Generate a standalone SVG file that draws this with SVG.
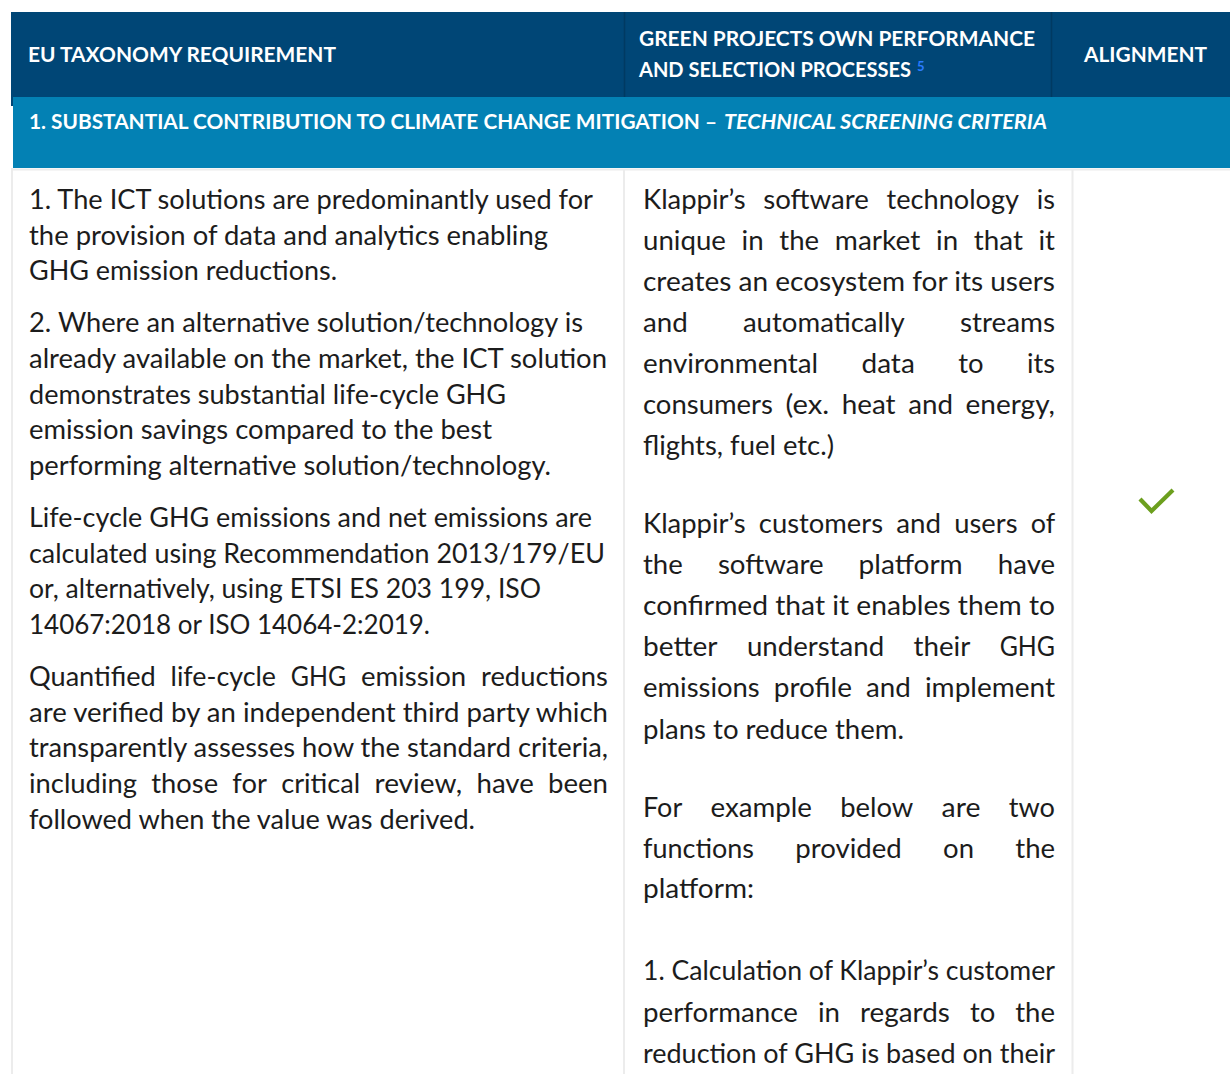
<svg xmlns="http://www.w3.org/2000/svg" width="1230" height="1074" viewBox="0 0 1230 1074">
  <style>
    .hd { font-family: Lato, "Liberation Sans", sans-serif; font-weight: 700; font-size: 21px; fill: #ffffff; }
    .sec { font-family: Lato, "Liberation Sans", sans-serif; font-weight: 700; font-size: 21px; fill: #ffffff; }
    .it { font-style: italic; }
    .sup { font-family: Lato, "Liberation Sans", sans-serif; font-weight: 700; font-size: 13px; fill: #2a7cff; }
    .b { font-family: Lato, "Liberation Sans", sans-serif; font-size: 27px; fill: #1c1c1c; }
    .grid { stroke: #ececec; stroke-width: 2; fill: none; }
    .hdiv { stroke: #003a62; stroke-width: 1.5; }
  </style>

  <rect x="0" y="0" width="1230" height="1074" fill="#ffffff"/>

  <g id="header">
    <rect x="11" y="12" width="1219" height="85" fill="#004676"/>
    <rect x="11" y="97" width="2" height="9" fill="#004676"/>
    <line class="hdiv" x1="624.5" y1="12" x2="624.5" y2="97"/>
    <line class="hdiv" x1="1051.5" y1="12" x2="1051.5" y2="97"/>
    <text class="hd" x="28" y="62" textLength="308" lengthAdjust="spacingAndGlyphs">EU TAXONOMY REQUIREMENT</text>
    <text class="hd" x="639" y="46" textLength="396" lengthAdjust="spacingAndGlyphs">GREEN PROJECTS OWN PERFORMANCE</text>
    <text class="hd" x="639" y="77"><tspan textLength="272" lengthAdjust="spacingAndGlyphs">AND SELECTION PROCESSES</tspan><tspan class="sup" x="917" dy="-6.5">5</tspan></text>
    <text class="hd" x="1084" y="62" textLength="123" lengthAdjust="spacingAndGlyphs">ALIGNMENT</text>
  </g>

  <g id="section-band">
    <rect x="13" y="97" width="1217" height="71" fill="#0381b4"/>
    <text class="sec" x="29" y="129" textLength="688" lengthAdjust="spacingAndGlyphs">1. SUBSTANTIAL CONTRIBUTION TO CLIMATE CHANGE MITIGATION –</text>
    <text class="sec it" x="724" y="129" textLength="323" lengthAdjust="spacingAndGlyphs">TECHNICAL SCREENING CRITERIA</text>
  </g>

  <g id="grid-lines">
    <line class="grid" x1="13" y1="169.5" x2="1230" y2="169.5"/>
    <line class="grid" x1="12" y1="168" x2="12" y2="1074"/>
    <line class="grid" x1="624" y1="170" x2="624" y2="1074"/>
    <line class="grid" x1="1072.5" y1="170" x2="1072.5" y2="1074"/>
  </g>

  <g id="col-requirement">
    <text class="b" x="29" y="209" textLength="564" lengthAdjust="spacingAndGlyphs">1. The ICT solutions are predominantly used for</text>
    <text class="b" x="29" y="245" textLength="519" lengthAdjust="spacingAndGlyphs">the provision of data and analytics enabling</text>
    <text class="b" x="29" y="280" textLength="308" lengthAdjust="spacingAndGlyphs">GHG emission reductions.</text>

    <text class="b" x="29" y="332" textLength="554" lengthAdjust="spacingAndGlyphs">2. Where an alternative solution/technology is</text>
    <text class="b" x="29" y="368" textLength="578" lengthAdjust="spacingAndGlyphs">already available on the market, the ICT solution</text>
    <text class="b" x="29" y="404" textLength="477" lengthAdjust="spacingAndGlyphs">demonstrates substantial life-cycle GHG</text>
    <text class="b" x="29" y="439" textLength="463" lengthAdjust="spacingAndGlyphs">emission savings compared to the best</text>
    <text class="b" x="29" y="475" textLength="522" lengthAdjust="spacingAndGlyphs">performing alternative solution/technology.</text>

    <text class="b" x="29" y="527" textLength="563" lengthAdjust="spacingAndGlyphs">Life-cycle GHG emissions and net emissions are</text>
    <text class="b" x="29" y="563" textLength="576" lengthAdjust="spacingAndGlyphs">calculated using Recommendation 2013/179/EU</text>
    <text class="b" x="29" y="598" textLength="512" lengthAdjust="spacingAndGlyphs">or, alternatively, using ETSI ES 203 199, ISO</text>
    <text class="b" x="29" y="634" textLength="401" lengthAdjust="spacingAndGlyphs">14067:2018 or ISO 14064-2:2019.</text>

    <text class="b" y="686"><tspan x="29" textLength="126.8" lengthAdjust="spacingAndGlyphs">Quantified</tspan><tspan x="170.6" textLength="105.4" lengthAdjust="spacingAndGlyphs">life-cycle</tspan><tspan x="290.8" textLength="55.3" lengthAdjust="spacingAndGlyphs">GHG</tspan><tspan x="360.9" textLength="105.3" lengthAdjust="spacingAndGlyphs">emission</tspan><tspan x="481" textLength="126.9" lengthAdjust="spacingAndGlyphs">reductions</tspan></text>
    <text class="b" x="29" y="722" textLength="579" lengthAdjust="spacingAndGlyphs">are verified by an independent third party which</text>
    <text class="b" x="29" y="757" textLength="579" lengthAdjust="spacingAndGlyphs">transparently assesses how the standard criteria,</text>
    <text class="b" y="793"><tspan x="29" textLength="108" lengthAdjust="spacingAndGlyphs">including</tspan><tspan x="151.3" textLength="66.8" lengthAdjust="spacingAndGlyphs">those</tspan><tspan x="232.3" textLength="34.6" lengthAdjust="spacingAndGlyphs">for</tspan><tspan x="281.2" textLength="79.1" lengthAdjust="spacingAndGlyphs">critical</tspan><tspan x="374.5" textLength="87.7" lengthAdjust="spacingAndGlyphs">review,</tspan><tspan x="476.5" textLength="57.3" lengthAdjust="spacingAndGlyphs">have</tspan><tspan x="548" textLength="60" lengthAdjust="spacingAndGlyphs">been</tspan></text>
    <text class="b" x="29" y="829" textLength="446" lengthAdjust="spacingAndGlyphs">followed when the value was derived.</text>
  </g>

  <g id="col-performance">
    <text class="b" y="209"><tspan x="643" textLength="102.6" lengthAdjust="spacingAndGlyphs">Klappir’s</tspan><tspan x="763.3" textLength="105.6" lengthAdjust="spacingAndGlyphs">software</tspan><tspan x="886.6" textLength="132.4" lengthAdjust="spacingAndGlyphs">technology</tspan><tspan x="1036.7" textLength="18.2" lengthAdjust="spacingAndGlyphs">is</tspan></text>
    <text class="b" y="250"><tspan x="643" textLength="82.9" lengthAdjust="spacingAndGlyphs">unique</tspan><tspan x="741.6" textLength="22.1" lengthAdjust="spacingAndGlyphs">in</tspan><tspan x="779.3" textLength="39.8" lengthAdjust="spacingAndGlyphs">the</tspan><tspan x="834.8" textLength="85.5" lengthAdjust="spacingAndGlyphs">market</tspan><tspan x="936" textLength="22.1" lengthAdjust="spacingAndGlyphs">in</tspan><tspan x="973.8" textLength="49.1" lengthAdjust="spacingAndGlyphs">that</tspan><tspan x="1038.5" textLength="16.5" lengthAdjust="spacingAndGlyphs">it</tspan></text>
    <text class="b" x="643" y="291" textLength="412" lengthAdjust="spacingAndGlyphs">creates an ecosystem for its users</text>
    <text class="b" y="332"><tspan x="643" textLength="44.8" lengthAdjust="spacingAndGlyphs">and</tspan><tspan x="742.9" textLength="161.9" lengthAdjust="spacingAndGlyphs">automatically</tspan><tspan x="959.9" textLength="95.1" lengthAdjust="spacingAndGlyphs">streams</tspan></text>
    <text class="b" y="373"><tspan x="643" textLength="175.1" lengthAdjust="spacingAndGlyphs">environmental</tspan><tspan x="861.5" textLength="53.3" lengthAdjust="spacingAndGlyphs">data</tspan><tspan x="958.2" textLength="25.3" lengthAdjust="spacingAndGlyphs">to</tspan><tspan x="1026.9" textLength="28" lengthAdjust="spacingAndGlyphs">its</tspan></text>
    <text class="b" y="414"><tspan x="643" textLength="129.9" lengthAdjust="spacingAndGlyphs">consumers</tspan><tspan x="785.5" textLength="43.6" lengthAdjust="spacingAndGlyphs">(ex.</tspan><tspan x="841.7" textLength="53.9" lengthAdjust="spacingAndGlyphs">heat</tspan><tspan x="908.2" textLength="44.8" lengthAdjust="spacingAndGlyphs">and</tspan><tspan x="965.6" textLength="89.3" lengthAdjust="spacingAndGlyphs">energy,</tspan></text>
    <text class="b" x="643" y="455" textLength="191" lengthAdjust="spacingAndGlyphs">flights, fuel etc.)</text>

    <text class="b" y="533"><tspan x="643" textLength="102.6" lengthAdjust="spacingAndGlyphs">Klappir’s</tspan><tspan x="758.8" textLength="124.3" lengthAdjust="spacingAndGlyphs">customers</tspan><tspan x="896.3" textLength="44.8" lengthAdjust="spacingAndGlyphs">and</tspan><tspan x="954.3" textLength="63.2" lengthAdjust="spacingAndGlyphs">users</tspan><tspan x="1030.7" textLength="24.4" lengthAdjust="spacingAndGlyphs">of</tspan></text>
    <text class="b" y="574"><tspan x="643" textLength="39.8" lengthAdjust="spacingAndGlyphs">the</tspan><tspan x="717.9" textLength="105.6" lengthAdjust="spacingAndGlyphs">software</tspan><tspan x="858.6" textLength="104.1" lengthAdjust="spacingAndGlyphs">platform</tspan><tspan x="997.8" textLength="57.3" lengthAdjust="spacingAndGlyphs">have</tspan></text>
    <text class="b" x="643" y="615" textLength="412" lengthAdjust="spacingAndGlyphs">confirmed that it enables them to</text>
    <text class="b" y="656"><tspan x="643" textLength="74.5" lengthAdjust="spacingAndGlyphs">better</tspan><tspan x="746.9" textLength="137.2" lengthAdjust="spacingAndGlyphs">understand</tspan><tspan x="913.5" textLength="56.8" lengthAdjust="spacingAndGlyphs">their</tspan><tspan x="999.7" textLength="55.3" lengthAdjust="spacingAndGlyphs">GHG</tspan></text>
    <text class="b" y="697"><tspan x="643" textLength="116.7" lengthAdjust="spacingAndGlyphs">emissions</tspan><tspan x="773.8" textLength="78.1" lengthAdjust="spacingAndGlyphs">profile</tspan><tspan x="866" textLength="44.8" lengthAdjust="spacingAndGlyphs">and</tspan><tspan x="924.9" textLength="130.1" lengthAdjust="spacingAndGlyphs">implement</tspan></text>
    <text class="b" x="643" y="739" textLength="261" lengthAdjust="spacingAndGlyphs">plans to reduce them.</text>

    <text class="b" y="817"><tspan x="643" textLength="39.2" lengthAdjust="spacingAndGlyphs">For</tspan><tspan x="710.5" textLength="101.5" lengthAdjust="spacingAndGlyphs">example</tspan><tspan x="840.2" textLength="73.1" lengthAdjust="spacingAndGlyphs">below</tspan><tspan x="941.6" textLength="38.9" lengthAdjust="spacingAndGlyphs">are</tspan><tspan x="1008.7" textLength="46.3" lengthAdjust="spacingAndGlyphs">two</tspan></text>
    <text class="b" y="858"><tspan x="643" textLength="111" lengthAdjust="spacingAndGlyphs">functions</tspan><tspan x="795.3" textLength="106.5" lengthAdjust="spacingAndGlyphs">provided</tspan><tspan x="943.1" textLength="30.9" lengthAdjust="spacingAndGlyphs">on</tspan><tspan x="1015.3" textLength="39.8" lengthAdjust="spacingAndGlyphs">the</tspan></text>
    <text class="b" x="643" y="898" textLength="111" lengthAdjust="spacingAndGlyphs">platform:</text>

    <text class="b" x="643" y="980" textLength="412" lengthAdjust="spacingAndGlyphs">1. Calculation of Klappir’s customer</text>
    <text class="b" y="1022"><tspan x="643" textLength="154.8" lengthAdjust="spacingAndGlyphs">performance</tspan><tspan x="817.9" textLength="22.1" lengthAdjust="spacingAndGlyphs">in</tspan><tspan x="860" textLength="89.8" lengthAdjust="spacingAndGlyphs">regards</tspan><tspan x="969.9" textLength="25.3" lengthAdjust="spacingAndGlyphs">to</tspan><tspan x="1015.2" textLength="39.8" lengthAdjust="spacingAndGlyphs">the</tspan></text>
    <text class="b" x="643" y="1063" textLength="412" lengthAdjust="spacingAndGlyphs">reduction of GHG is based on their</text>
  </g>

  <g id="col-alignment">
    <polyline points="1140,499 1151.5,511 1173,490" fill="none" stroke="#6c9f1e" stroke-width="4.2" stroke-linejoin="miter"/>
  </g>
</svg>
